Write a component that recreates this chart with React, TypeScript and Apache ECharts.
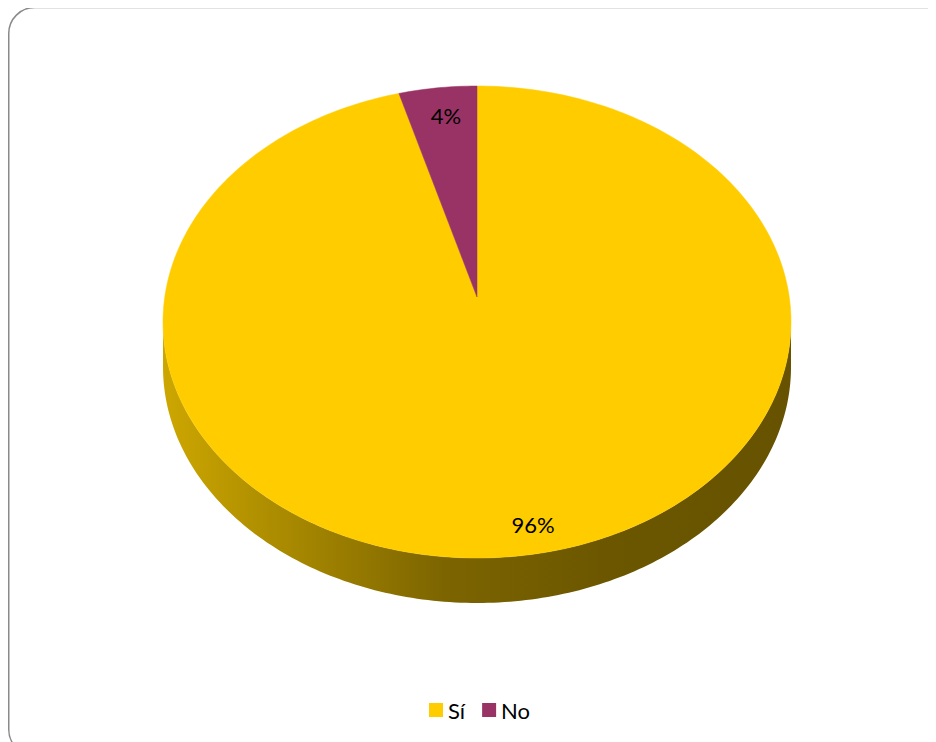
import React, { useEffect, useRef } from "react";
import * as echarts from "echarts";

const categories = ["Sí", "No"];
const values = [96, 4];
const colors = ["#FFCC00", "#993366"];

// geometry (chart px)
const CX = 469;
const CY = 314;
const APEX_Y = 289;
const RX = 314;
const RY = 236;
const DEPTH = 45;
const LABEL_POS = [
  [525, 516],
  [438, 107],
];

function pt(deg: number, dy = 0): number[] {
  const r = (deg * Math.PI) / 180;
  return [CX + RX * Math.sin(r), CY - RY * Math.cos(r) + dy];
}

function arcPoints(a0: number, a1: number, dy = 0): number[][] {
  const pts: number[][] = [];
  const n = Math.max(2, Math.ceil(Math.abs(a1 - a0) / 1));
  for (let i = 0; i <= n; i++) pts.push(pt(a0 + ((a1 - a0) * i) / n, dy));
  return pts;
}

export default function App() {
  const ref = useRef<HTMLDivElement>(null);
  useEffect(() => {
    if (!ref.current) return;
    const chart = echarts.init(ref.current, null, { renderer: "svg" });
    const total = values.reduce((a, b) => a + b, 0);
    const starts: number[] = [];
    let acc = 0;
    values.forEach((v) => {
      starts.push(acc);
      acc += (v / total) * 360;
    });

    const makeRender = (idx: number) => (params: any, api: any) => {
      const v = api.value(0);
      const a0 = starts[idx];
      const a1 = a0 + (v / total) * 360;
      const children: any[] = [];
      // front side wall
      const s0 = Math.max(a0, 90);
      const s1 = Math.min(a1, 270);
      if (s1 > s0) {
        const top = arcPoints(s0, s1, 0);
        const bot = arcPoints(s1, s0, DEPTH);
        children.push({
          type: "polygon",
          shape: { points: top.concat(bot) },
          style: {
            fill: {
              type: "linear",
              x: 0,
              y: 0,
              x2: 1,
              y2: 0,
              colorStops: [
                { offset: 0, color: "#CDA700" },
                { offset: 0.2, color: "#A88900" },
                { offset: 0.45, color: "#7C6400" },
                { offset: 0.7, color: "#6C5700" },
                { offset: 1, color: "#665200" },
              ],
            },
            stroke: null,
          },
        });
      }
      const topPts = [[CX, APEX_Y]].concat(arcPoints(a0, a1, 0));
      children.push({
        type: "polygon",
        shape: { points: topPts },
        style: { fill: colors[idx], stroke: colors[idx], lineWidth: 0.5 },
      });
      children.push({
        type: "text",
        x: LABEL_POS[idx][0],
        y: LABEL_POS[idx][1],
        style: {
          text: Math.round((v / total) * 100) + "%",
          fill: "#000",
          fontSize: 22,
          fontFamily: "Lato",
          align: "center",
          verticalAlign: "middle",
        },
      });
      return { type: "group", children };
    };

    chart.setOption({
      animation: false,
      backgroundColor: "#fff",
      graphic: [
        {
          type: "rect",
          shape: { x: 0.75, y: -0.5, width: 945, height: 748, r: 26 },
          style: { fill: "none", stroke: "#8a8a8a", lineWidth: 1.5 },
          z: -10,
        },
      ],
      legend: {
        data: categories,
        left: 416,
        top: 686,
        icon: "rect",
        itemWidth: 14,
        itemHeight: 14,
        itemGap: 17,
        textStyle: { fontSize: 22, fontFamily: "Lato", color: "#000" },
        selectedMode: false,
      },
      series: categories.map((name, i) => ({
        type: "custom",
        name,
        coordinateSystem: "none",
        itemStyle: { color: colors[i] },
        data: [[values[i]]],
        renderItem: makeRender(i),
        silent: true,
      })),
    });
    return () => chart.dispose();
  }, []);
  return <div ref={ref} style={{ width: 928, height: 734, overflow: "hidden" }} />;
}
